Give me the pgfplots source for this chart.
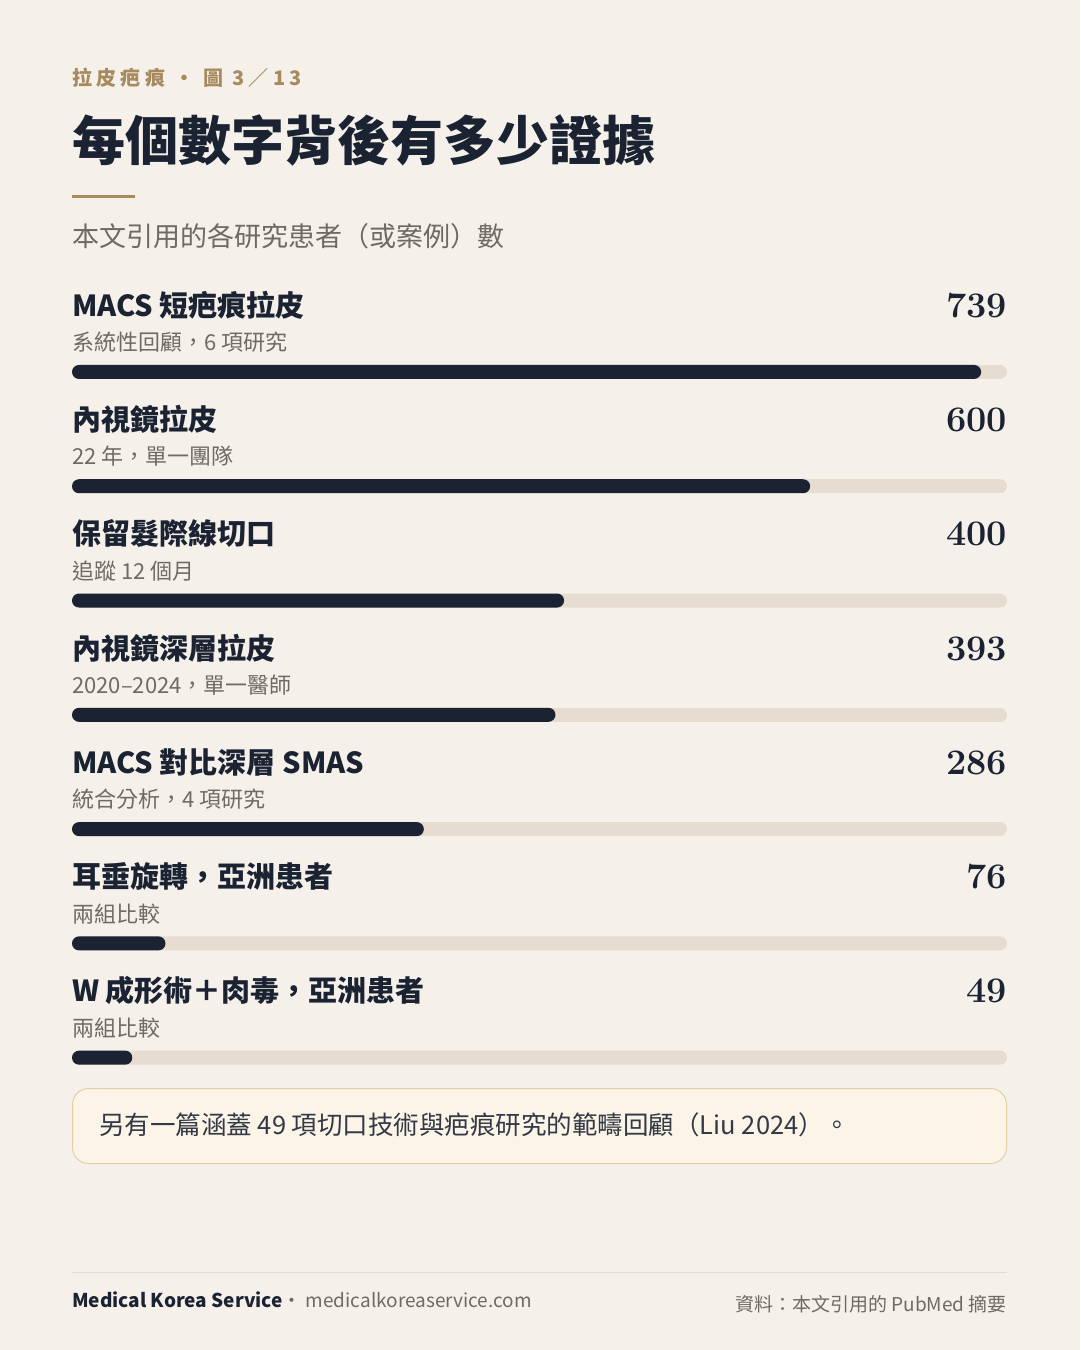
\documentclass[border=0pt]{standalone}
\usepackage{pgfplots}
\pgfplotsset{compat=1.18}
\usepackage{fontspec}
\newfontfamily\cjk{Noto Sans CJK TC}
\definecolor{bg}{HTML}{F5F1EA}
\definecolor{ink}{HTML}{1B2333}
\definecolor{track}{HTML}{E6DDD0}
\definecolor{gold}{HTML}{A88A5F}
\definecolor{muted}{HTML}{6E6A64}
\definecolor{boxfill}{HTML}{FBF4E7}
\definecolor{boxline}{HTML}{E3CFA5}
\definecolor{rule}{HTML}{E3DCD0}
\newcommand{\fs}[1]{\fontsize{#1}{#1}\selectfont}
\begin{document}
\begin{tikzpicture}
  \fill[bg] (0pt,0pt) rectangle (1080pt,-1350pt);

  % bars
  \begin{axis}[
      at={(72pt,-314.8pt)}, anchor=north west,
      width=935pt, height=800pt, scale only axis,
      xmin=0, xmax=760,
      ymin=-0.5, ymax=6.5, y dir=reverse,
      hide axis, clip=false,
      xbar, bar width=14pt, bar shift=0pt,
    ]
    \addplot[fill=track, draw=none, rounded corners=7pt]
      coordinates {(760,0) (760,1) (760,2) (760,3) (760,4) (760,5) (760,6)};
    \addplot[fill=ink, draw=none, rounded corners=7pt]
      coordinates {(739,0) (600,1) (400,2) (393,3) (286,4) (76,5) (49,6)};
  \end{axis}

  \begin{scope}[x=1pt,y=1pt]
  % header
  \node[anchor=base west,inner sep=0,text=gold] at (72,-85)
    {\cjk\bfseries\fs{20}\addfontfeature{LetterSpace=22}拉皮疤痕 · 圖 3／13};
  \node[anchor=base west,inner sep=0,text=ink] at (72,-160)
    {\cjk\bfseries\fs{53}每個數字背後有多少證據};
  \fill[gold] (72,-194.5) rectangle (135,-197.5);
  \node[anchor=base west,inner sep=0,text=muted] at (72,-246)
    {\cjk\fs{27}本文引用的各研究患者（或案例）數};

  % labels
  \foreach \i/\name/\sub/\val in {
      0/{MACS 短疤痕拉皮}/{系統性回顧，6 項研究}/739,
      1/{內視鏡拉皮}/{22 年，單一團隊}/600,
      2/{保留髮際線切口}/{追蹤 12 個月}/400,
      3/{內視鏡深層拉皮}/{2020–2024，單一醫師}/393,
      4/{MACS 對比深層 SMAS}/{統合分析，4 項研究}/286,
      5/{耳垂旋轉，亞洲患者}/{兩組比較}/76,
      6/{W 成形術＋肉毒，亞洲患者}/{兩組比較}/49} {
    \pgfmathsetmacro{\yc}{-(372+114.33*\i)}
    \node[anchor=base west,inner sep=0,text=ink] at (72,\yc+56)
      {\cjk\bfseries\fs{29}\name};
    \node[anchor=base west,inner sep=0,text=muted] at (72,\yc+21.5)
      {\cjk\fs{22}\sub};
    \node[anchor=base east,inner sep=0,text=ink] at (1007,\yc+55)
      {\bfseries\fs{36}\val};
  }

  % note box
  \draw[boxline, fill=boxfill, line width=1pt, rounded corners=16pt]
    (72.5,-1088.5) rectangle (1006.5,-1163.5);
  \node[anchor=base west,inner sep=0,text=ink!90] at (99,-1134)
    {\cjk\fs{25.5}另有一篇涵蓋 49 項切口技術與疤痕研究的範疇回顧（Liu 2024）。};

  % footer
  \draw[rule, line width=1pt] (72,-1272) -- (1007,-1272);
  \node[anchor=base west,inner sep=0] at (72,-1307)
    {\cjk\fs{19}\textcolor{ink}{\bfseries Medical Korea Service}\textcolor{muted}{ · medicalkoreaservice.com}};
  \node[anchor=base east,inner sep=0,text=muted] at (1007,-1311)
    {\cjk\fs{19}資料：本文引用的 PubMed 摘要};
  \end{scope}

  \pgfresetboundingbox
  \path (0pt,0pt) rectangle (1080pt,-1350pt);
\end{tikzpicture}
\end{document}
